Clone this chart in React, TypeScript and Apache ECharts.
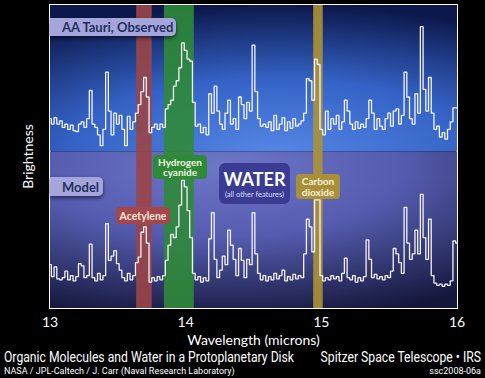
import React, { useEffect, useRef } from "react";
import * as echarts from "echarts";

// Wavelength grid (microns): 13.00 .. 16.00 sampled every 0.02
const wlStart = 13;
const wlStep = 0.02;

// AA Tauri, observed spectrum (offset brightness, arbitrary units)
const observed = [
  1.55, 1.50, 1.56, 1.50, 1.53, 1.47, 1.50, 1.45, 1.49, 1.44,
  1.43, 1.50, 1.52, 1.47, 1.55, 1.81, 1.50, 1.47, 1.40, 1.30,
  1.45, 1.98, 1.62, 1.40, 1.60, 1.50, 1.58, 1.45, 1.30, 1.57,
  1.45, 1.52, 1.60, 1.68, 1.80, 1.93, 1.75, 1.42, 1.47, 1.50,
  1.45, 1.50, 1.47, 1.64, 1.68, 1.72, 1.85, 1.90, 2.02, 2.25,
  2.18, 2.10, 2.08, 1.70, 1.48, 1.50, 1.42, 1.47, 1.40, 1.78,
  1.60, 1.85, 1.62, 1.50, 1.45, 1.60, 1.72, 1.50, 1.55, 1.45,
  1.75, 1.68, 1.55, 1.70, 1.62, 2.23, 1.80, 1.55, 1.48, 1.50,
  1.47, 1.52, 1.44, 1.58, 1.45, 1.50, 1.56, 1.44, 1.52, 1.46,
  1.55, 1.48, 1.50, 1.53, 1.60, 1.92, 1.90, 1.72, 2.10, 2.05,
  1.45, 1.40, 1.62, 1.45, 1.55, 1.50, 1.58, 1.45, 1.52, 1.72,
  1.62, 1.50, 1.45, 1.52, 1.46, 1.50, 1.47, 1.55, 1.72, 1.60,
  1.45, 1.55, 1.48, 1.45, 1.55, 1.60, 1.48, 1.62, 1.64, 1.50,
  1.58, 1.98, 1.75, 1.55, 1.50, 1.78, 1.60, 2.40, 1.82, 1.62,
  1.93, 1.60, 1.45, 1.48, 1.38, 1.42, 1.36, 1.45, 1.52, 1.65,
  1.65,
];

// Model spectrum
const model = [
  0.20, 0.09, 0.18, 0.07, 0.06, 0.08, 0.14, 0.06, 0.10, 0.05,
  0.09, 0.21, 0.19, 0.08, 0.10, 0.39, 0.08, 0.05, 0.12, 0.06,
  0.10, 0.58, 0.24, 0.28, 0.33, 0.21, 0.15, 0.08, 0.05, 0.12,
  0.06, 0.10, 0.22, 0.27, 0.50, 0.55, 0.40, 0.04, 0.08, 0.05,
  0.09, 0.06, 0.10, 0.24, 0.38, 0.48, 0.45, 0.55, 0.75, 0.98,
  0.92, 0.70, 0.45, 0.12, 0.06, 0.09, 0.04, 0.08, 0.05, 0.44,
  0.68, 0.25, 0.08, 0.15, 0.28, 0.20, 0.52, 0.38, 0.25, 0.10,
  0.35, 0.24, 0.08, 0.25, 0.20, 0.68, 0.30, 0.12, 0.06, 0.10,
  0.05, 0.09, 0.06, 0.12, 0.07, 0.10, 0.15, 0.05, 0.09, 0.06,
  0.11, 0.07, 0.10, 0.08, 0.30, 0.62, 0.55, 0.32, 0.80, 0.80,
  0.10, 0.05, 0.08, 0.06, 0.10, 0.07, 0.09, 0.05, 0.12, 0.26,
  0.08, 0.06, 0.10, 0.04, 0.08, 0.05, 0.09, 0.43, 0.25, 0.08,
  0.11, 0.07, 0.09, 0.06, 0.10, 0.08, 0.14, 0.35, 0.30, 0.22,
  0.12, 0.73, 0.40, 0.25, 0.30, 0.52, 0.30, 0.85, 0.45, 0.25,
  0.62, 0.10, 0.03, 0.01, 0.02, 0.00, 0.02, 0.01, 0.05, 0.42,
  0.40,
];

// Molecular feature bands (microns)
const bandNames = ["Acetylene", "Hydrogen cyanide", "Carbon dioxide"];
const bandFrom = [13.635, 13.84, 14.94];
const bandTo = [13.75, 14.06, 15.01];
const bandColors = ["#9a4548", "#2f8a38", "#ad9236"];

const yTickValues = [0, 1, 2];
const yMin = -0.2;
const yMax = 2.6;
const panelSplit = 1.247;

const FONT = "Lato, 'Open Sans', sans-serif";
const SMALL = "Roboto, sans-serif";

export default function App() {
  const ref = useRef<HTMLDivElement>(null);
  useEffect(() => {
    if (!ref.current) return;
    document.body.style.background = "#000";
    const chart = echarts.init(ref.current, undefined, { renderer: "svg" });
    const toPairs = (arr: number[]) =>
      arr.map((v, i) => [Math.round((wlStart + i * wlStep) * 100) / 100, v]);

    const tickStyle = { color: "#fff", width: 1.5 };
    const xAxisBase = {
      type: "value",
      min: 13,
      max: 16,
      interval: 1,
      axisLine: { show: false },
      splitLine: { show: false },
      axisTick: { show: true, inside: true, length: 8, lineStyle: tickStyle },
      minorTick: { show: true, splitNumber: 5, length: 6, lineStyle: tickStyle },
      minorSplitLine: { show: false },
    };
    const yAxisBase = {
      type: "value",
      min: yMin,
      max: yMax,
      axisLine: { show: false },
      splitLine: { show: false },
      axisLabel: { show: false },
      axisTick: { show: true, inside: true, length: 7, lineStyle: tickStyle, customValues: yTickValues },
    };

    const topGrad = new echarts.graphic.RadialGradient(0.55, 1.0, 1.0, [
      { offset: 0, color: "#5486e4" },
      { offset: 0.5, color: "#3462c6" },
      { offset: 1, color: "#0c184c" },
    ]);
    const botGrad = new echarts.graphic.RadialGradient(0.42, 0.1, 1.0, [
      { offset: 0, color: "#6e76c8" },
      { offset: 0.45, color: "#555caf" },
      { offset: 1, color: "#14163a" },
    ]);

    const labelText = (text: string, x: number, y: number, size: number, align: string, scaleX: number) => ({
      type: "text",
      z: 11,
      x,
      y,
      scaleX,
      style: { text, fill: "#fff", font: `${size}px ${SMALL}`, textAlign: align, textVerticalAlign: "middle" },
    });

    const option: any = {
      animation: false,
      backgroundColor: "#000",
      grid: {
        left: 50,
        right: 28,
        top: 5,
        bottom: 70,
        show: true,
        borderColor: "#fff",
        borderWidth: 2,
        backgroundColor: "transparent",
      },
      xAxis: [
        {
          ...xAxisBase,
          position: "bottom",
          axisLabel: { color: "#fff", fontSize: 14, fontFamily: FONT, margin: 6 },
          name: "Wavelength (microns)",
          nameLocation: "middle",
          nameGap: 16,
          nameTextStyle: { color: "#fff", fontSize: 14, fontFamily: FONT },
        },
        { ...xAxisBase, position: "top", axisLabel: { show: false } },
      ],
      yAxis: [
        {
          ...yAxisBase,
          position: "left",
          name: "Brightness",
          nameLocation: "middle",
          nameGap: 16,
          nameTextStyle: { color: "#fff", fontSize: 14, fontFamily: FONT },
        },
        { ...yAxisBase, position: "right" },
      ],
      series: [
        {
          type: "line",
          name: "panels",
          data: [],
          z: 1,
          silent: true,
          markArea: {
            silent: true,
            data: [
              [{ yAxis: panelSplit, itemStyle: { color: topGrad } }, { yAxis: yMax }],
              [{ yAxis: yMin, itemStyle: { color: botGrad } }, { yAxis: panelSplit }],
            ],
          },
        },
        {
          type: "line",
          name: "bands",
          data: [],
          z: 2,
          silent: true,
          markArea: {
            silent: true,
            data: bandNames.map((n, i) => [
              { name: "", xAxis: bandFrom[i], itemStyle: { color: bandColors[i], opacity: 0.9 } },
              { xAxis: bandTo[i] },
            ]),
          },
        },
        {
          type: "line",
          name: "AA Tauri, Observed",
          data: toPairs(observed),
          step: "middle",
          showSymbol: false,
          symbol: "none",
          z: 3,
          lineStyle: { color: "#f4f4f8", width: 1.3 },
        },
        {
          type: "line",
          name: "Model",
          data: toPairs(model),
          step: "middle",
          showSymbol: false,
          symbol: "none",
          z: 3,
          lineStyle: { color: "#f4f4f8", width: 1.3 },
        },
      ],
      graphic: [
        labelText("Organic Molecules and Water in a Protoplanetary Disk", 4, 357, 14, "left", 0.87),
        labelText("Spitzer Space Telescope • IRS", 481, 357, 14, "right", 0.87),
        labelText("NASA / JPL-Caltech / J. Carr (Naval Research Laboratory)", 4, 371, 9, "left", 1),
        labelText("ssc2008-06a", 481, 371, 9, "right", 1),
        {
          type: "rect",
          z: 10,
          shape: { x: 50, y: 18, width: 126, height: 18, r: [0, 5, 5, 0] },
          style: { fill: "#a4a5da", shadowBlur: 4, shadowColor: "rgba(0,0,20,0.6)", shadowOffsetY: 2 },
        },
        {
          type: "text",
          z: 11,
          x: 62,
          y: 27,
          style: { text: "AA Tauri, Observed", fill: "#25305f", font: `bold 13px ${FONT}`, textVerticalAlign: "middle" },
        },
        {
          type: "rect",
          z: 10,
          shape: { x: 50, y: 177, width: 53, height: 19, r: [0, 5, 5, 0] },
          style: { fill: "#a4a5da", shadowBlur: 4, shadowColor: "rgba(0,0,20,0.6)", shadowOffsetY: 2 },
        },
        {
          type: "text",
          z: 11,
          x: 62,
          y: 186.5,
          style: { text: "Model", fill: "#25305f", font: `bold 13px ${FONT}`, textVerticalAlign: "middle" },
        },
        {
          type: "rect",
          z: 10,
          shape: { x: 153, y: 155, width: 54, height: 24, r: 4 },
          style: { fill: "#2f8a38" },
        },
        {
          type: "text",
          z: 11,
          x: 180,
          y: 161.5,
          style: { text: "Hydrogen", fill: "#eef2e0", font: `bold 10px ${FONT}`, textAlign: "center", textVerticalAlign: "middle" },
        },
        {
          type: "text",
          z: 11,
          x: 180,
          y: 172,
          style: { text: "cyanide", fill: "#eef2e0", font: `bold 10px ${FONT}`, textAlign: "center", textVerticalAlign: "middle" },
        },
        {
          type: "rect",
          z: 10,
          shape: { x: 116, y: 207, width: 54, height: 17, r: 4 },
          style: { fill: "#a3474a" },
        },
        {
          type: "text",
          z: 11,
          x: 143,
          y: 215.5,
          style: { text: "Acetylene", fill: "#f5e6dc", font: `bold 10.5px ${FONT}`, textAlign: "center", textVerticalAlign: "middle" },
        },
        {
          type: "rect",
          z: 10,
          shape: { x: 219, y: 163, width: 71, height: 41, r: 6 },
          style: { fill: "#393c92" },
        },
        {
          type: "text",
          z: 11,
          x: 254.5,
          y: 178.5,
          style: { text: "WATER", fill: "#ffffff", font: `bold 18px ${FONT}`, textAlign: "center", textVerticalAlign: "middle" },
        },
        {
          type: "text",
          z: 11,
          x: 254.5,
          y: 194.5,
          style: { text: "(all other features)", fill: "#dcdcf2", font: `7.5px ${FONT}`, textAlign: "center", textVerticalAlign: "middle" },
        },
        {
          type: "rect",
          z: 10,
          shape: { x: 296, y: 174, width: 44, height: 25, r: 4 },
          style: { fill: "#a8903a" },
        },
        {
          type: "text",
          z: 11,
          x: 318,
          y: 181,
          style: { text: "Carbon", fill: "#f8f0d8", font: `bold 10px ${FONT}`, textAlign: "center", textVerticalAlign: "middle" },
        },
        {
          type: "text",
          z: 11,
          x: 318,
          y: 191.5,
          style: { text: "dioxide", fill: "#f8f0d8", font: `bold 10px ${FONT}`, textAlign: "center", textVerticalAlign: "middle" },
        },
      ],
    };
    chart.setOption(option);
    return () => chart.dispose();
  }, []);
  return (
    <div
      ref={ref}
      style={{ position: "fixed", left: 0, top: 0, width: 485, height: 378, background: "#000" }}
    />
  );
}
